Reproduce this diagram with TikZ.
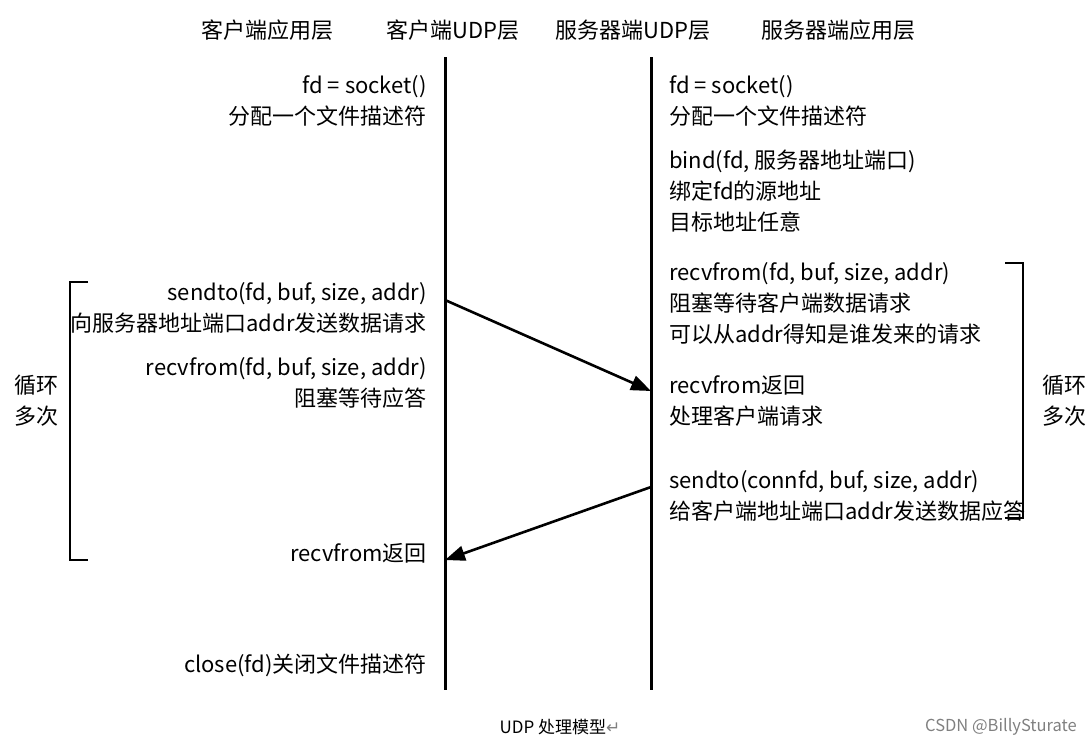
\documentclass[tikz,border=0pt]{standalone}
\usepackage{fontspec}
\setmainfont{Noto Sans CJK SC}
\newfontfamily\symfont{DejaVu Sans}
\usetikzlibrary{arrows.meta}

\begin{document}
\begin{tikzpicture}[x=1pt,y=-1pt,
  lbl/.style={inner sep=0pt,font=\fontsize{22}{31}\selectfont},
  lt/.style={lbl,align=right,anchor=north east},
  rt/.style={lbl,align=left,anchor=north west},
  life/.style={line width=3pt},
  msg/.style={line width=2.6pt,-{Triangle[length=20pt,width=15pt]}},
  brk/.style={line width=2.6pt}]
\useasboundingbox (0,0) rectangle (1092,747);

% layer titles
\node[lbl] (hca) at (267,30) {客户端应用层};
\node[lbl] (hcu) at (453,30) {客户端UDP层};
\node[lbl] (hsu) at (633,30) {服务器端UDP层};
\node[lbl] (hsa) at (838,30) {服务器端应用层};

% life lines
\coordinate (ctop) at (445,57);
\coordinate (cbot) at (445,690);
\coordinate (stop) at (651,57);
\coordinate (sbot) at (651,690);
\draw[life] (ctop) -- (cbot);
\draw[life] (stop) -- (sbot);

% client side
\node[lt] (csock) at (427,75) {fd = socket()\\分配一个文件描述符};
\node[lt] (csend) at (427,282) {sendto(fd, buf, size, addr)\\向服务器地址端口addr发送数据请求};
\node[lt] (crecv) at (427,357) {recvfrom(fd, buf, size, addr)\\阻塞等待应答};
\node[lt] (cret) at (427,543) {recvfrom返回};
\node[lt] (cclose) at (427,654) {close(fd)关闭文件描述符};

% server side
\node[rt] (ssock) at (669,75) {fd = socket()\\分配一个文件描述符};
\node[rt] (sbind) at (669,150) {bind(fd, 服务器地址端口)\\绑定fd的源地址\\目标地址任意};
\node[rt] (srecv) at (669,262) {recvfrom(fd, buf, size, addr)\\阻塞等待客户端数据请求\\可以从addr得知是谁发来的请求};
\node[rt] (sret) at (669,375) {recvfrom返回\\处理客户端请求};
\node[rt] (ssend) at (669,470) {sendto(connfd, buf, size, addr)\\给客户端地址端口addr发送数据应答};

% loops
\draw[brk] (88,282) -| (70,560) -- (88,560);
\draw[brk] (1005,263) -| (1023,518) -- (1005,518);
\node[lbl,align=left] (lloop) at (36,401) {循环\\多次};
\node[lbl,align=left,anchor=west] (rloop) at (1042,401) {循环\\多次};

% messages
\coordinate (creq) at (445,300);
\coordinate (sreq) at (651,391);
\coordinate (sans) at (651,487);
\coordinate (cans) at (445,560);
\draw[msg] (creq) -- (sreq);
\draw[msg] (sans) -- (cans);

% caption
\node[font=\fontsize{17}{20}\selectfont] (cap) at (560,727) {UDP 处理模型{\symfont\color{gray}↵}};
\node[font=\fontsize{16.5}{20}\selectfont,text=gray] (mark) at (1001,727) {CSDN @BillySturate};
\end{tikzpicture}
\end{document}
